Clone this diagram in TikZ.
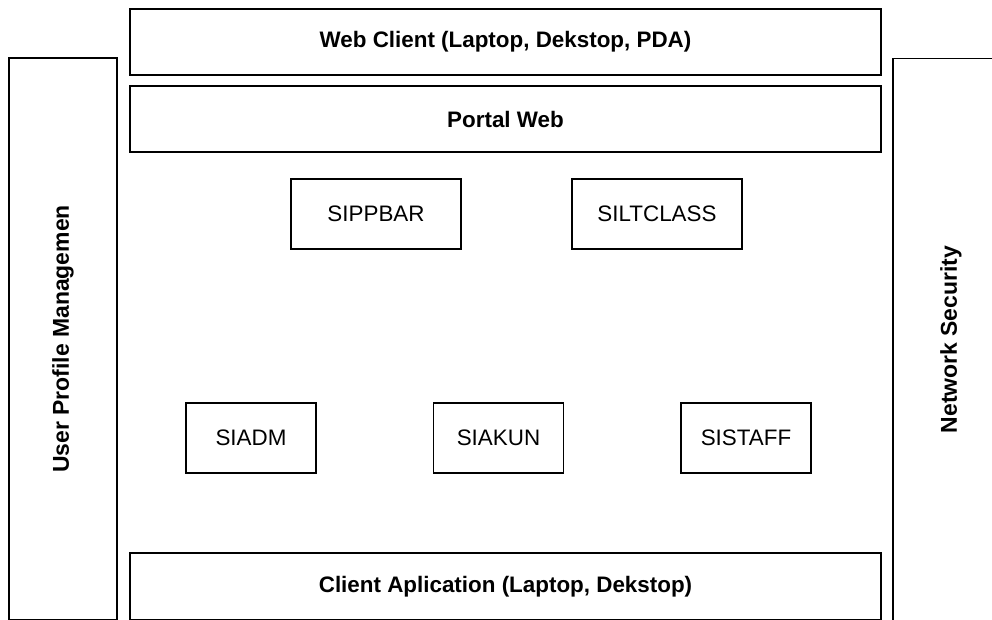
\documentclass[tikz,border=0pt]{standalone}
\usepackage{fontspec}
\setmainfont{Liberation Sans}
\usepackage{tikz}
\usetikzlibrary{positioning}

\tikzset{
	layer/.style={draw, line width=1.1pt, minimum width=563.25pt, minimum height=49.5pt, font=\fontsize{16.8}{20}\selectfont\bfseries},
	side/.style={draw, line width=1.1pt, minimum width=81pt, minimum height=421.5pt},
	sidetext/.style={rotate=90, font=\fontsize{17.2}{20}\selectfont\bfseries},
	sysbox/.style={draw, line width=1.1pt, minimum height=52.5pt, font=\fontsize{16.8}{20}\selectfont},
}

\begin{document}
\begin{tikzpicture}[x=0.75pt, y=-0.75pt]
	\useasboundingbox (0,0) rectangle (992,619);
	% layers
	\node[layer] (webclient) at (505.5,42) {Web Client (Laptop, Dekstop, PDA)};
	\node[layer] (portal) at (505.5,119) {Portal Web};
	\node[layer, minimum height=50.25pt] (clientapp) at (505.5,586.5) {Client Aplication (Laptop, Dekstop)};
	% side bars
	\node[side] (userprof) at (63,339) {};
	\node[sidetext] at (userprof) {User Profile Managemen};
	\node[side, minimum width=87pt] (netsec) at (951,339.5) {};
	\node[sidetext] at (netsec) {Network Security};
	% systems
	\node[sysbox, minimum width=127.5pt] (sippbar) at (376,214) {SIPPBAR};
	\node[sysbox, minimum width=127.5pt] (siltclass) at (657,214) {SILTCLASS};
	\node[sysbox, minimum width=97.5pt] (siadm) at (251,438) {SIADM};
	\node[sysbox, minimum width=97.5pt] (siakun) at (498.5,438) {SIAKUN};
	\node[sysbox, minimum width=97.5pt] (sistaff) at (746,438) {SISTAFF};
\end{tikzpicture}
\end{document}
